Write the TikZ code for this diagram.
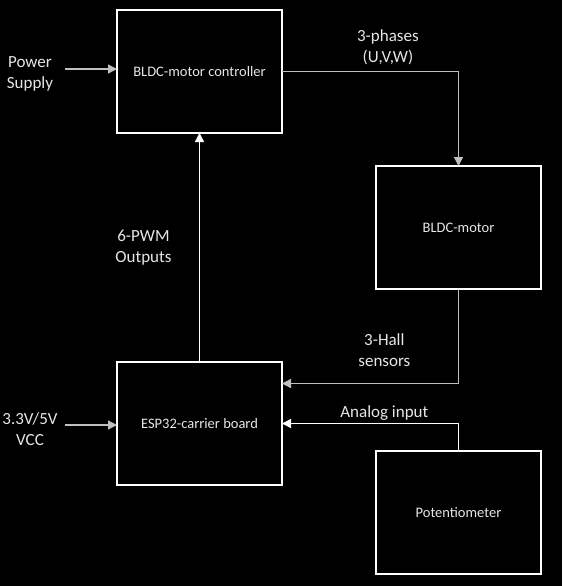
\documentclass[tikz,border=0pt]{standalone}
\usepackage{fontspec}
\setmainfont{Carlito}
\usepackage{tikz}
\usetikzlibrary{arrows.meta,positioning}
\definecolor{wireGray}{HTML}{BFBFBF}
\definecolor{textWhite}{HTML}{E6E6E6}

\begin{document}
\begin{tikzpicture}[->,>={Triangle[length=9pt,width=9pt]},line width=1.4pt,
                    draw=white]
  \tikzstyle{block}=[draw=white,line width=1.2pt,outer sep=0pt,
                     minimum width=165pt,minimum height=123pt,text=textWhite,
                     font=\fontsize{14.5}{17.7}\selectfont]
  \tikzstyle{lbl}=[text=textWhite,align=center,font=\fontsize{17}{20.7}\selectfont]

  \fill[black,use as bounding box] (0,0) rectangle (562pt,-586pt);

  \node[block] (ctrl) at (199.5pt,-71.5pt) {BLDC-motor controller};
  \node[block] (motor) [below right=33pt and 94pt of ctrl] {BLDC-motor};
  \node[block] (esp)   [below=229pt of ctrl]  {ESP32-carrier board};
  \node[block] (pot)   [below=162pt of motor] {Potentiometer};

  \node[lbl] (pwr) at (30pt,-74pt)  {Power\\Supply};
  \node[lbl] (vcc) at (30pt,-429pt) {3.3V/5V\\VCC};
  \coordinate (pwrin) at (65pt,-69pt);
  \coordinate (vccin) at (65pt,-425pt);

  \draw[wireGray] (pwrin) -- (pwrin -| ctrl.west);
  \draw[wireGray] (vccin) -- (vccin -| esp.west);
  \draw[wireGray] (ctrl.east) -| node[lbl,pos=0.3,above=3pt] {3-phases\\(U,V,W)} (motor.north);
  \draw[white] (esp.north) -- node[lbl,left=24pt] {6-PWM\\Outputs} (ctrl.south);
  \draw[wireGray] (motor.south) |- node[lbl,pos=0.71,above=13pt] {3-Hall\\sensors}
        ([yshift=40pt]esp.east);
  \draw[white] (pot.north) |- node[lbl,pos=0.71,above=-1pt] {Analog input} (esp.east);
\end{tikzpicture}
\end{document}
